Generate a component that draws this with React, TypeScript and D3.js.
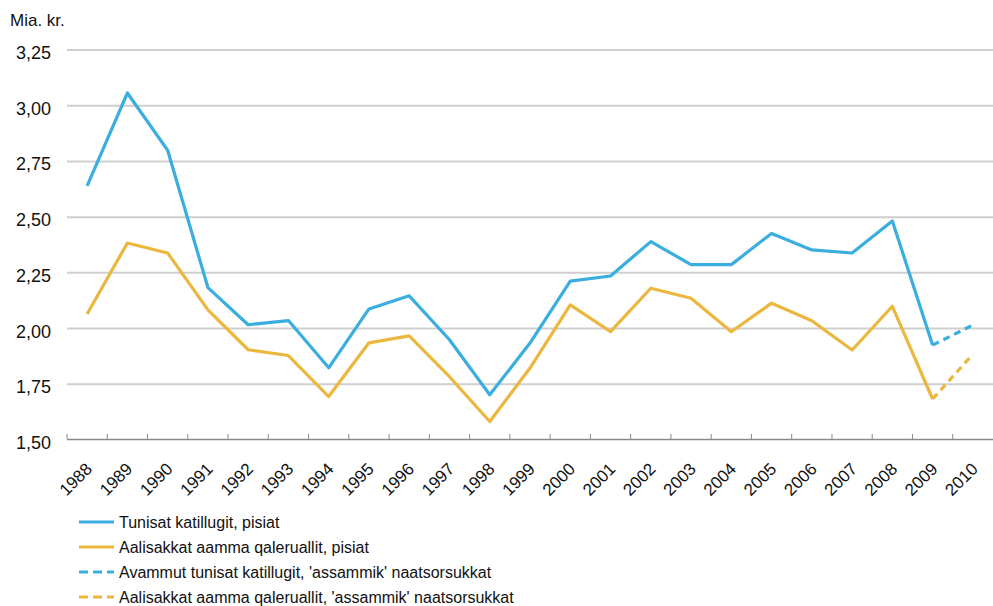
import { useEffect, useRef } from 'react';
import * as d3 from 'd3';

const years = ['1988', '1989', '1990', '1991', '1992', '1993', '1994', '1995', '1996', '1997', '1998', '1999',
  '2000', '2001', '2002', '2003', '2004', '2005', '2006', '2007', '2008', '2009', '2010'];

// solid series run 1988-2009, dashed ones 2009-2010
const tunisatPisiat = [2.64, 3.057, 2.80, 2.184, 2.017, 2.036, 1.824, 2.088, 2.147, 1.95, 1.703, 1.935,
  2.213, 2.236, 2.39, 2.287, 2.287, 2.427, 2.353, 2.339, 2.483, 1.926];
const aalisakkatPisiat = [2.065, 2.384, 2.339, 2.084, 1.905, 1.879, 1.695, 1.936, 1.967, 1.784, 1.583, 1.823,
  2.106, 1.986, 2.181, 2.136, 1.986, 2.114, 2.035, 1.904, 2.10, 1.684];
const tunisatNaatsorsukkat = [1.926, 2.016];
const aalisakkatNaatsorsukkat = [1.684, 1.885];

const yTicks = [1.5, 1.75, 2.0, 2.25, 2.5, 2.75, 3.0, 3.25];

const legendLabels = [
  'Tunisat katillugit, pisiat',
  'Aalisakkat aamma qaleruallit, pisiat',
  "Avammut tunisat katillugit, 'assammik' naatsorsukkat",
  "Aalisakkat aamma qaleruallit, 'assammik' naatsorsukkat",
];

const BLUE = '#3aaede';
const ORANGE = '#ebb73f';
const FONT = 'Liberation Sans, Arial, Helvetica, sans-serif';

export default function App() {
  const svgRef = useRef<SVGSVGElement>(null);

  useEffect(() => {
    const svg = d3.select(svgRef.current);
    svg.selectAll('*').remove();

    const x = d3.scaleBand<string>().domain(years).range([67, 993]);
    const y = d3.scaleLinear().domain([1.5, 3.25]).range([440, 50]);
    const cx = (yr: string) => (x(yr) as number) + x.bandwidth() / 2;

    // grid lines
    svg.append('g')
      .selectAll('line')
      .data(yTicks.slice(1))
      .enter()
      .append('line')
      .attr('x1', 67)
      .attr('x2', 993)
      .attr('y1', d => y(d))
      .attr('y2', d => y(d))
      .attr('stroke', '#cfcfcf')
      .attr('stroke-width', 2);

    // y labels
    svg.append('g')
      .selectAll('text')
      .data(yTicks)
      .enter()
      .append('text')
      .attr('x', 51)
      .attr('y', d => y(d) + 9)
      .attr('text-anchor', 'end')
      .style('font-family', FONT)
      .style('font-size', '18px')
      .attr('fill', '#111')
      .text(d => d3.format('.2f')(d).replace('.', ','));

    svg.append('text')
      .attr('x', 10)
      .attr('y', 26)
      .style('font-family', FONT)
      .style('font-size', '17px')
      .attr('fill', '#111')
      .text('Mia. kr.');

    // x axis
    const axis = svg.append('g');
    axis.append('line')
      .attr('x1', 67).attr('x2', 993)
      .attr('y1', 439.5).attr('y2', 439.5)
      .attr('stroke', '#8a8a8a')
      .attr('stroke-width', 1.5);
    axis.selectAll('.tick')
      .data(years)
      .enter()
      .append('line')
      .attr('class', 'tick')
      .attr('x1', d => x(d) as number)
      .attr('x2', d => x(d) as number)
      .attr('y1', 439)
      .attr('y2', 434)
      .attr('stroke', '#8a8a8a')
      .attr('stroke-width', 1);
    axis.selectAll('.xlab')
      .data(years)
      .enter()
      .append('text')
      .attr('class', 'xlab')
      .attr('transform', d => `translate(${cx(d) + 6},${470}) rotate(-45)`)
      .attr('text-anchor', 'end')
      .style('font-family', FONT)
      .style('font-size', '17px')
      .attr('fill', '#111')
      .text(d => d);

    const line = d3.line<[string, number]>()
      .x(d => cx(d[0]))
      .y(d => y(d[1]));

    const series = [
      { values: tunisatPisiat, start: 0, color: BLUE, dash: null },
      { values: aalisakkatPisiat, start: 0, color: ORANGE, dash: null },
      { values: tunisatNaatsorsukkat, start: 21, color: BLUE, dash: '7,5' },
      { values: aalisakkatNaatsorsukkat, start: 21, color: ORANGE, dash: '7,5' },
    ];

    // draw orange under blue
    [series[1], series[3], series[0], series[2]].forEach(s => {
      const pts = s.values.map((v, i) => [years[s.start + i], v] as [string, number]);
      svg.append('path')
        .datum(pts)
        .attr('fill', 'none')
        .attr('stroke', s.color)
        .attr('stroke-width', 3.2)
        .attr('stroke-linejoin', 'round')
        .attr('stroke-dasharray', s.dash)
        .attr('d', line);
    });

    // legend
    const legend = svg.append('g').attr('transform', 'translate(79, 522)');
    series.forEach((s, i) => {
      const row = legend.append('g').attr('transform', `translate(0, ${i * 25})`);
      row.append('line')
        .attr('x1', 0).attr('x2', 35)
        .attr('stroke', s.color)
        .attr('stroke-width', 3)
        .attr('stroke-dasharray', s.dash ? '9,5' : null);
      row.append('text')
        .attr('x', 40)
        .attr('y', 6)
        .style('font-family', FONT)
        .style('font-size', '16px')
        .attr('fill', '#111')
        .text(legendLabels[i]);
    });
  }, []);

  return <svg ref={svgRef} width={993} height={606} style={{ position: 'absolute', left: 0, top: 0 }} />;
}
